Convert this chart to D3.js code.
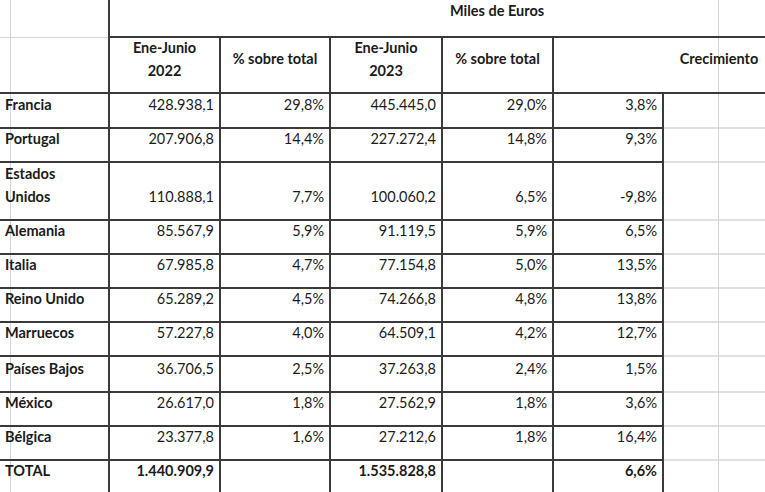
<!DOCTYPE html>
<html><head><meta charset="utf-8">
<script src="https://cdn.jsdelivr.net/npm/d3@7"></script>
<style>html,body{margin:0;padding:0;background:#fff;}svg{display:block;}</style>
</head><body>
<svg id="c" width="765" height="492"></svg>
<script>
// ---- data ----
const countries = ["Francia","Portugal","Estados Unidos","Alemania","Italia","Reino Unido","Marruecos","Países Bajos","México","Bélgica"];
const value2022 = [428938.1,207906.8,110888.1,85567.9,67985.8,65289.2,57227.8,36706.5,26617.0,23377.8];
const share2022 = [29.8,14.4,7.7,5.9,4.7,4.5,4.0,2.5,1.8,1.6];
const value2023 = [445445.0,227272.4,100060.2,91119.5,77154.8,74266.8,64509.1,37263.8,27562.9,27212.6];
const share2023 = [29.0,14.8,6.5,5.9,5.0,4.8,4.2,2.4,1.8,1.8];
const growth = [3.8,9.3,-9.8,6.5,13.5,13.8,12.7,1.5,3.6,16.4];
const totalLabel = "TOTAL";
const total2022 = 1440909.9;
const total2023 = 1535828.8;
const totalGrowth = 6.6;
const unitTitle = "Miles de Euros";
const headers = [["Ene-Junio","2022"],["% sobre total"],["Ene-Junio","2023"],["% sobre total"],["Crecimiento"]];

// ---- formatting ----
const loc = d3.formatLocale({decimal:",",thousands:".",grouping:[3],currency:["","€"],minus:"-"});
const fNum = loc.format(",.1f");
const fPct = v => loc.format(".1f")(v) + "%";

// ---- layout ----
const svg = d3.select("#c");
const W = 765, H = 492;
const FONT = "Lato, 'Open Sans', sans-serif";
const dark = "#3a3a3a", grid = "#d4d4d4", ink = "#1b1b1b";

// column boundaries (first label col, then 5 data columns)
const colEdges = [0,109,220,330,442,553,663];
const colX = d3.scaleLinear().domain([0,6]).range([0,663]); // not used for exact edges
const colRight = d3.scaleOrdinal().domain([0,1,2,3,4]).range(colEdges.slice(2).map(x=>x-6));
const colCenter = d3.scaleOrdinal().domain([0,1,2,3]).range([0,1,2,3].map(i=>(colEdges[i+1]+colEdges[i+2])/2));

// rows: heights in lines (Estados Unidos spans two text lines)
const rowLines = countries.map(c => c.split(" ").length > 1 && c === "Estados Unidos" ? 2 : 1);
const baseH = 34, headTop = 37, headBottom = 93;
const rowHeights = rowLines.map((l,i) => l === 2 ? 58 : (i===0 ? 35 : (i===7 ? 36 : baseH)));
const rowTops = [];
let acc = headBottom;
rowHeights.forEach(h => { rowTops.push(acc); acc += h; });
const totalTop = acc;
const rowY = d3.scaleOrdinal().domain(d3.range(countries.length)).range(rowTops);
const rowBottom = i => rowY(i) + rowHeights[i];

const g = svg.append("g");

// light spreadsheet gridlines
g.append("line").attr("x1",10.5).attr("x2",10.5).attr("y1",0).attr("y2",H).attr("stroke",grid).attr("stroke-width",1);
g.append("line").attr("x1",718.5).attr("x2",718.5).attr("y1",0).attr("y2",H).attr("stroke",grid).attr("stroke-width",1);
g.append("line").attr("x1",0).attr("x2",109).attr("y1",37.5).attr("y2",37.5).attr("stroke",grid).attr("stroke-width",1);
const hLines = rowTops.slice(1).concat([totalTop]);
g.selectAll(".gl").data(hLines).join("line")
  .attr("x1",663).attr("x2",W).attr("y1",d=>d).attr("y2",d=>d)
  .attr("stroke",grid).attr("stroke-width",1.5);

// dark borders
const dl = (x1,y1,x2,y2) => g.append("line").attr("x1",x1).attr("y1",y1).attr("x2",x2).attr("y2",y2).attr("stroke",dark).attr("stroke-width",2);
dl(109,0,109,H);
[220,330,442,553].forEach(x => dl(x,headTop-1,x,H));
dl(663,headBottom-1,663,H);
dl(108,headTop,W,headTop);
dl(0,headBottom,W,headBottom);
hLines.forEach(y => dl(0,y,664,y));

// text helpers
const txt = (x,y,s,anchor,bold) => g.append("text").attr("x",x).attr("y",y).text(s)
  .attr("text-anchor",anchor).attr("font-family",FONT).attr("font-size",14.5)
  .attr("font-weight",bold?"bold":"normal").attr("fill",ink);

// title
txt(497,16,unitTitle,"middle",true);
// headers
headers.forEach((h,i) => {
  if (i < 4) {
    if (h.length === 2) { txt(colCenter(i),53,h[0],"middle",true); txt(colCenter(i),76,h[1],"middle",true); }
    else txt(colCenter(i),64,h[0],"middle",true);
  } else txt(719,64,h[0],"middle",true);
});

// data rows
countries.forEach((c,i) => {
  const yb = rowBottom(i) - 18;
  if (rowLines[i] === 2) {
    const parts = c.split(" ");
    txt(5,yb-23,parts[0],"start",true);
    txt(5,yb,parts[1],"start",true);
  } else txt(5,yb,c,"start",true);
  txt(colRight(0),yb,fNum(value2022[i]),"end",false);
  txt(colRight(1),yb,fPct(share2022[i]),"end",false);
  txt(colRight(2),yb,fNum(value2023[i]),"end",false);
  txt(colRight(3),yb,fPct(share2023[i]),"end",false);
  txt(colRight(4),yb,fPct(growth[i]),"end",false);
});

// total row
const ty = totalTop + 16;
txt(5,ty,totalLabel,"start",true);
txt(colRight(0),ty,fNum(total2022),"end",true);
txt(colRight(2),ty,fNum(total2023),"end",true);
txt(colRight(4),ty,fPct(totalGrowth),"end",true);
</script>
</body></html>
